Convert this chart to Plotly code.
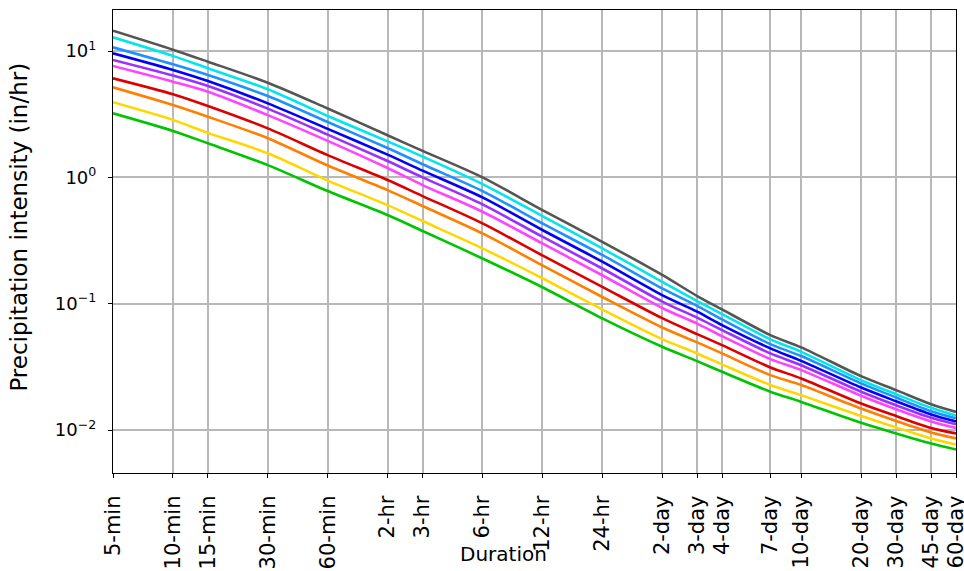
import plotly.graph_objects as go

# Durations (minutes) and tick labels
durations_min = [5, 10, 15, 30, 60, 120, 180, 360, 720, 1440, 2880, 4320, 5760,
                 10080, 14400, 28800, 43200, 64800, 86400]
duration_labels = ["5-min", "10-min", "15-min", "30-min", "60-min", "2-hr", "3-hr",
                   "6-hr", "12-hr", "24-hr", "2-day", "3-day", "4-day", "7-day",
                   "10-day", "20-day", "30-day", "45-day", "60-day"]

# Precipitation intensity (in/hr), one list per curve (bottom to top)
green = [3.21, 2.33, 1.86, 1.25, 0.779, 0.503, 0.376, 0.228, 0.135, 0.0765, 0.0456,
         0.0351, 0.0289, 0.0201, 0.0167, 0.0114, 0.0094, 0.00783, 0.00702]
gold = [3.93, 2.85, 2.25, 1.55, 0.943, 0.603, 0.451, 0.274, 0.159, 0.0901, 0.0525,
        0.0404, 0.0331, 0.0227, 0.0189, 0.0129, 0.0105, 0.00858, 0.00769]
orange = [5.16, 3.74, 3.02, 2.04, 1.24, 0.793, 0.593, 0.360, 0.201, 0.113, 0.0648,
          0.0494, 0.0404, 0.0272, 0.0227, 0.0148, 0.0118, 0.00957, 0.00858]
red = [6.08, 4.55, 3.67, 2.44, 1.50, 0.952, 0.711, 0.432, 0.241, 0.136, 0.0768,
       0.0574, 0.0470, 0.0313, 0.0256, 0.0162, 0.0129, 0.0104, 0.0094]
magenta = [7.61, 5.72, 4.76, 3.11, 1.945, 1.185, 0.869, 0.534, 0.300, 0.168, 0.0925,
           0.0695, 0.0554, 0.0364, 0.0298, 0.0187, 0.0146, 0.0117, 0.0104]
purple = [8.49, 6.39, 5.28, 3.50, 2.18, 1.346, 1.00, 0.611, 0.339, 0.190, 0.104,
          0.0775, 0.0618, 0.0404, 0.0326, 0.0201, 0.0157, 0.0125, 0.0111]
blue = [9.59, 7.09, 5.79, 3.85, 2.42, 1.512, 1.13, 0.694, 0.383, 0.215, 0.117,
        0.0865, 0.0677, 0.0443, 0.0353, 0.0217, 0.0169, 0.0133, 0.0117]
dodgerblue = [10.70, 7.85, 6.46, 4.40, 2.74, 1.706, 1.27, 0.779, 0.432, 0.243, 0.132,
              0.0960, 0.0751, 0.0479, 0.0385, 0.0234, 0.0181, 0.0141, 0.0124]
cyan = [12.84, 9.15, 7.30, 4.98, 3.06, 1.928, 1.46, 0.885, 0.494, 0.274, 0.149,
        0.105, 0.0827, 0.0522, 0.0416, 0.0248, 0.0192, 0.0150, 0.0130]
gray = [14.48, 10.25, 8.23, 5.61, 3.505, 2.154, 1.62, 1.00, 0.551, 0.309, 0.169,
        0.115, 0.0901, 0.0564, 0.0451, 0.0267, 0.0207, 0.0160, 0.0139]

series = [
    (green, "#00c400"),
    (gold, "#ffd700"),
    (orange, "#ff7f00"),
    (red, "#dd0000"),
    (magenta, "#ff44ff"),
    (purple, "#9b30ff"),
    (blue, "#0000ff"),
    (dodgerblue, "#1e90ff"),
    (cyan, "#00e5ee"),
    (gray, "#555555"),
]

fig = go.Figure()
for vals, col in series:
    fig.add_trace(go.Scatter(x=durations_min, y=vals, mode="lines",
                             line=dict(color=col, width=2.6, shape="spline", smoothing=0.8),
                             showlegend=False, hoverinfo="skip"))

font_family = "DejaVu Sans"
fig.update_layout(
    width=964, height=571,
    margin=dict(l=113, r=8, t=10, b=98, autoexpand=False),
    paper_bgcolor="white", plot_bgcolor="white",
    font=dict(family=font_family, color="black", size=16),
    showlegend=False,
)
fig.update_xaxes(
    type="log", range=[0.69896, 4.93653], automargin=False,
    tickmode="array", tickvals=durations_min, ticktext=duration_labels,
    tickangle=-90, tickfont=dict(size=21, family=font_family),
    ticklabeloverflow="allow", ticklabelstandoff=9,
    showgrid=True, gridcolor="#b8b8b8", gridwidth=1.5,
    showline=True, linecolor="black", linewidth=1.2, mirror=True,
    ticks="outside", ticklen=4, tickcolor="black", zeroline=False,
)
fig.update_yaxes(
    type="log", range=[-2.34, 1.3246], automargin=False,
    tickmode="array", tickvals=[0.01, 0.1, 1, 10],
    ticktext=["10<sup>−2</sup>", "10<sup>−1</sup>", "10<sup>0</sup>", "10<sup>1</sup>"],
    tickfont=dict(size=18, family=font_family), ticklabelstandoff=8,
    showgrid=True, gridcolor="#b8b8b8", gridwidth=1.5,
    showline=True, linecolor="black", linewidth=1.2, mirror=True,
    ticks="outside", ticklen=4, tickcolor="black", zeroline=False,
)
fig.add_annotation(text="Duration", xref="paper", yref="paper",
                   x=0.4638, y=-0.175, xanchor="center", yanchor="middle",
                   showarrow=False, font=dict(size=20, family=font_family))
fig.add_annotation(text="Precipitation intensity (in/hr)", xref="paper", yref="paper",
                   x=-0.1115, y=0.53, xanchor="center", yanchor="middle", textangle=-90,
                   showarrow=False, font=dict(size=23, family=font_family))

fig.write_html("out.html")
